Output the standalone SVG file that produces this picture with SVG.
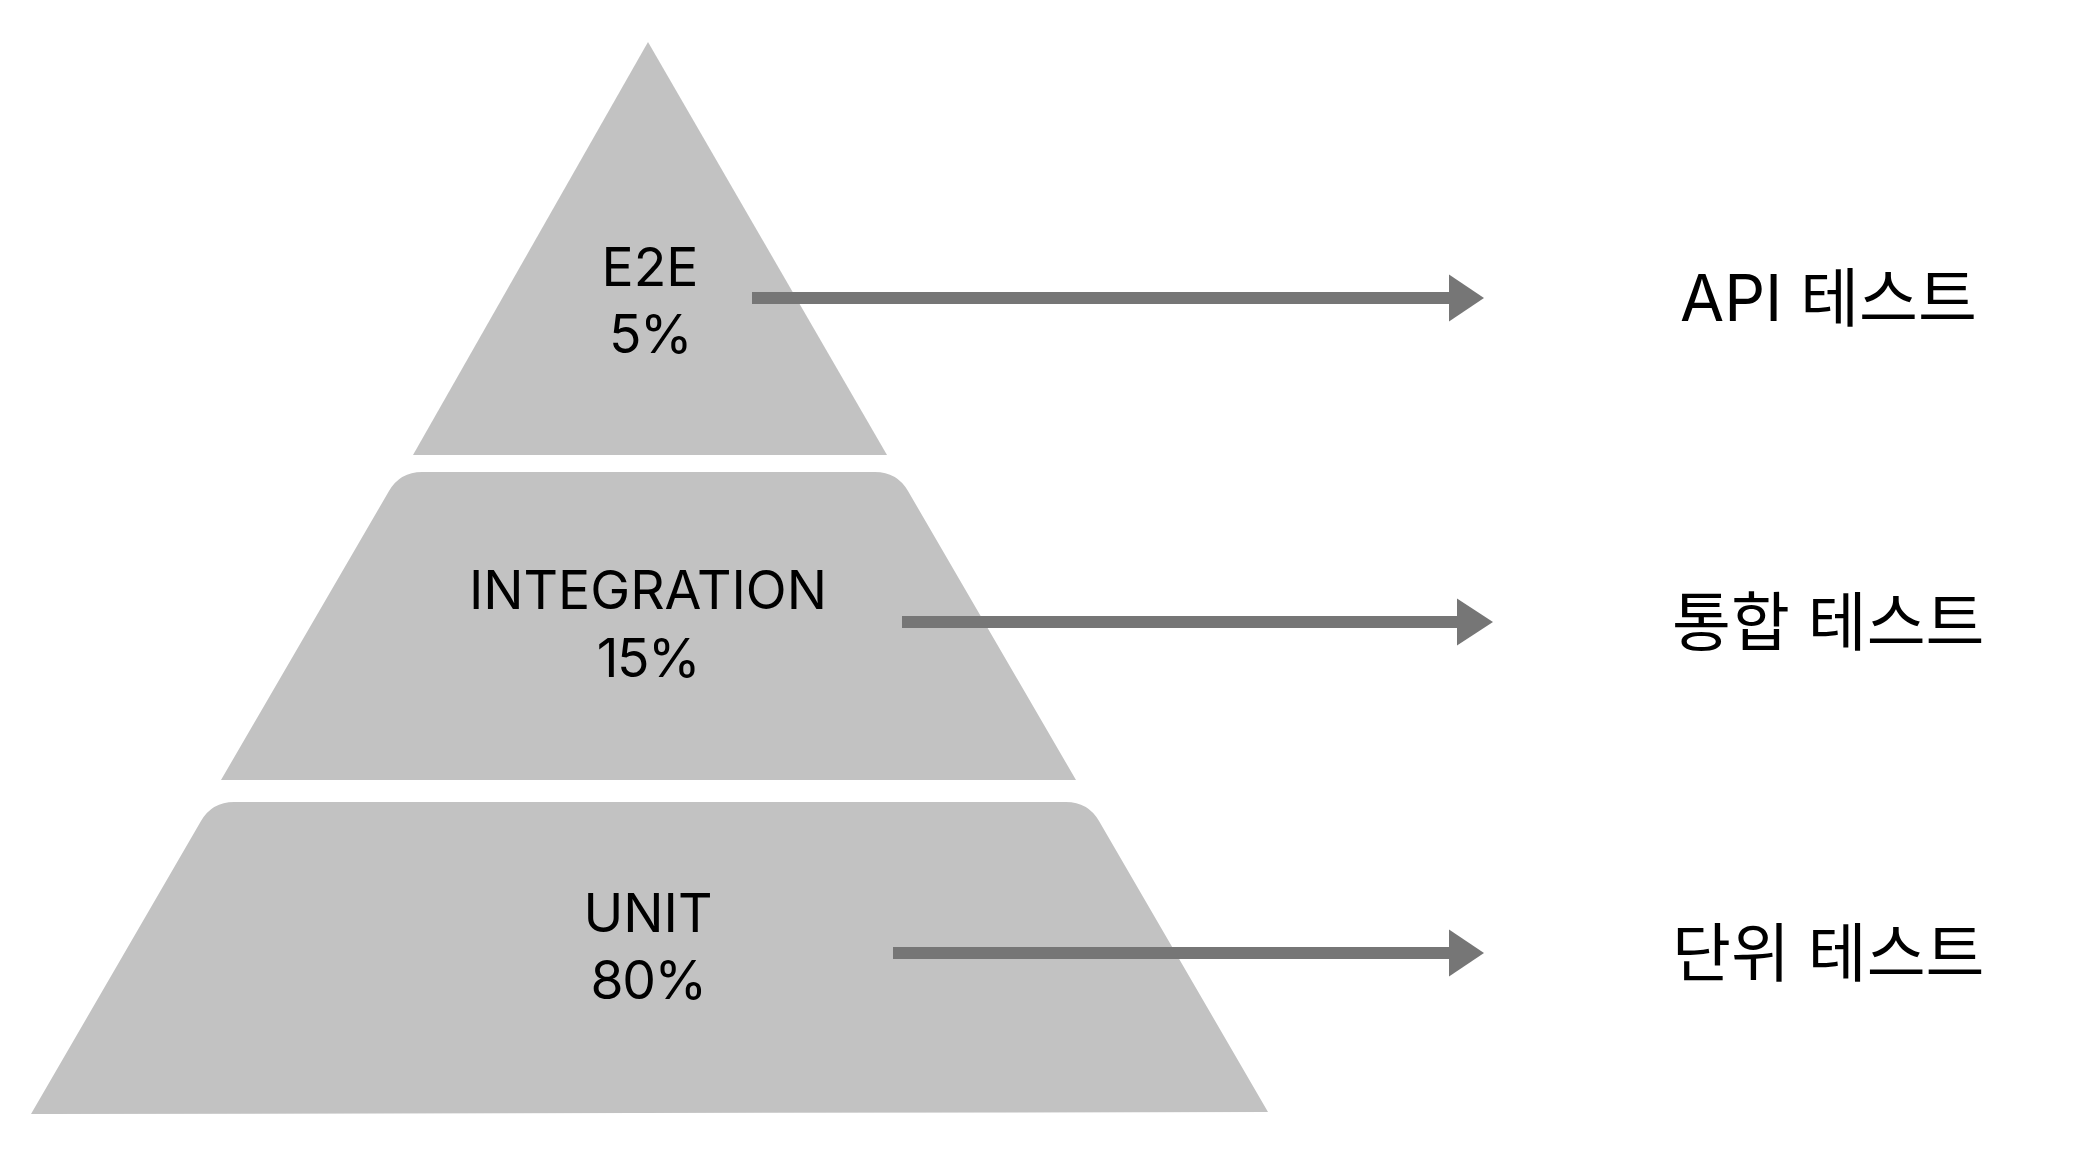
<svg xmlns="http://www.w3.org/2000/svg" width="2094" height="1162" viewBox="0 0 2094 1162">
<defs>
<style>
.tier{fill:#c2c2c2;}
.lbl{font-family:Inter,"Noto Sans",sans-serif;font-size:53.5px;fill:#000;text-anchor:middle;}
.pct{letter-spacing:-1.5px;}
.side{font-family:Inter,"Noto Sans CJK KR",sans-serif;font-size:64px;fill:#000;}
.conn{stroke:#767676;stroke-width:12;fill:none;}
.head{fill:#767676;}
</style>
</defs>
<rect width="2094" height="1162" fill="#ffffff"/>
<g id="tier-e2e">
<path class="tier" d="M648 42 L887 455 L413 455 Z"/>
<text class="lbl" x="650" y="286">E2E</text>
<text class="lbl pct" x="650" y="353">5%</text>
</g>
<g id="tier-integration">
<path class="tier" d="M221 780 L389 491 Q400 472 422 472 L875 472 Q897 472 908 491 L1076 780 Z"/>
<text class="lbl" x="648" y="609">INTEGRATION</text>
<text class="lbl pct" x="648" y="677">15%</text>
</g>
<g id="tier-unit">
<path class="tier" d="M31 1114 L201 821 Q212 802 234 802 L1066 802 Q1088 802 1099 821 L1268 1112 Z"/>
<text class="lbl" x="648" y="932">UNIT</text>
<text class="lbl pct" x="648" y="999">80%</text>
</g>
<g id="label-api">
<text class="side" x="1680" y="321">API 테스트</text>
</g>
<g id="label-integration">
<text class="side" x="1672" y="645">통합 테스트</text>
</g>
<g id="label-unit">
<text class="side" x="1672" y="976">단위 테스트</text>
</g>
<g id="connectors">
<line class="conn" x1="752" y1="298" x2="1451" y2="298"/>
<path class="head" d="M1449 274.5 L1484 298 L1449 321.5 Z"/>
<line class="conn" x1="902" y1="622" x2="1459" y2="622"/>
<path class="head" d="M1457 598.5 L1493 622 L1457 645.5 Z"/>
<line class="conn" x1="893" y1="953" x2="1451" y2="953"/>
<path class="head" d="M1449 929.5 L1484 953 L1449 976.5 Z"/>
</g>
</svg>
